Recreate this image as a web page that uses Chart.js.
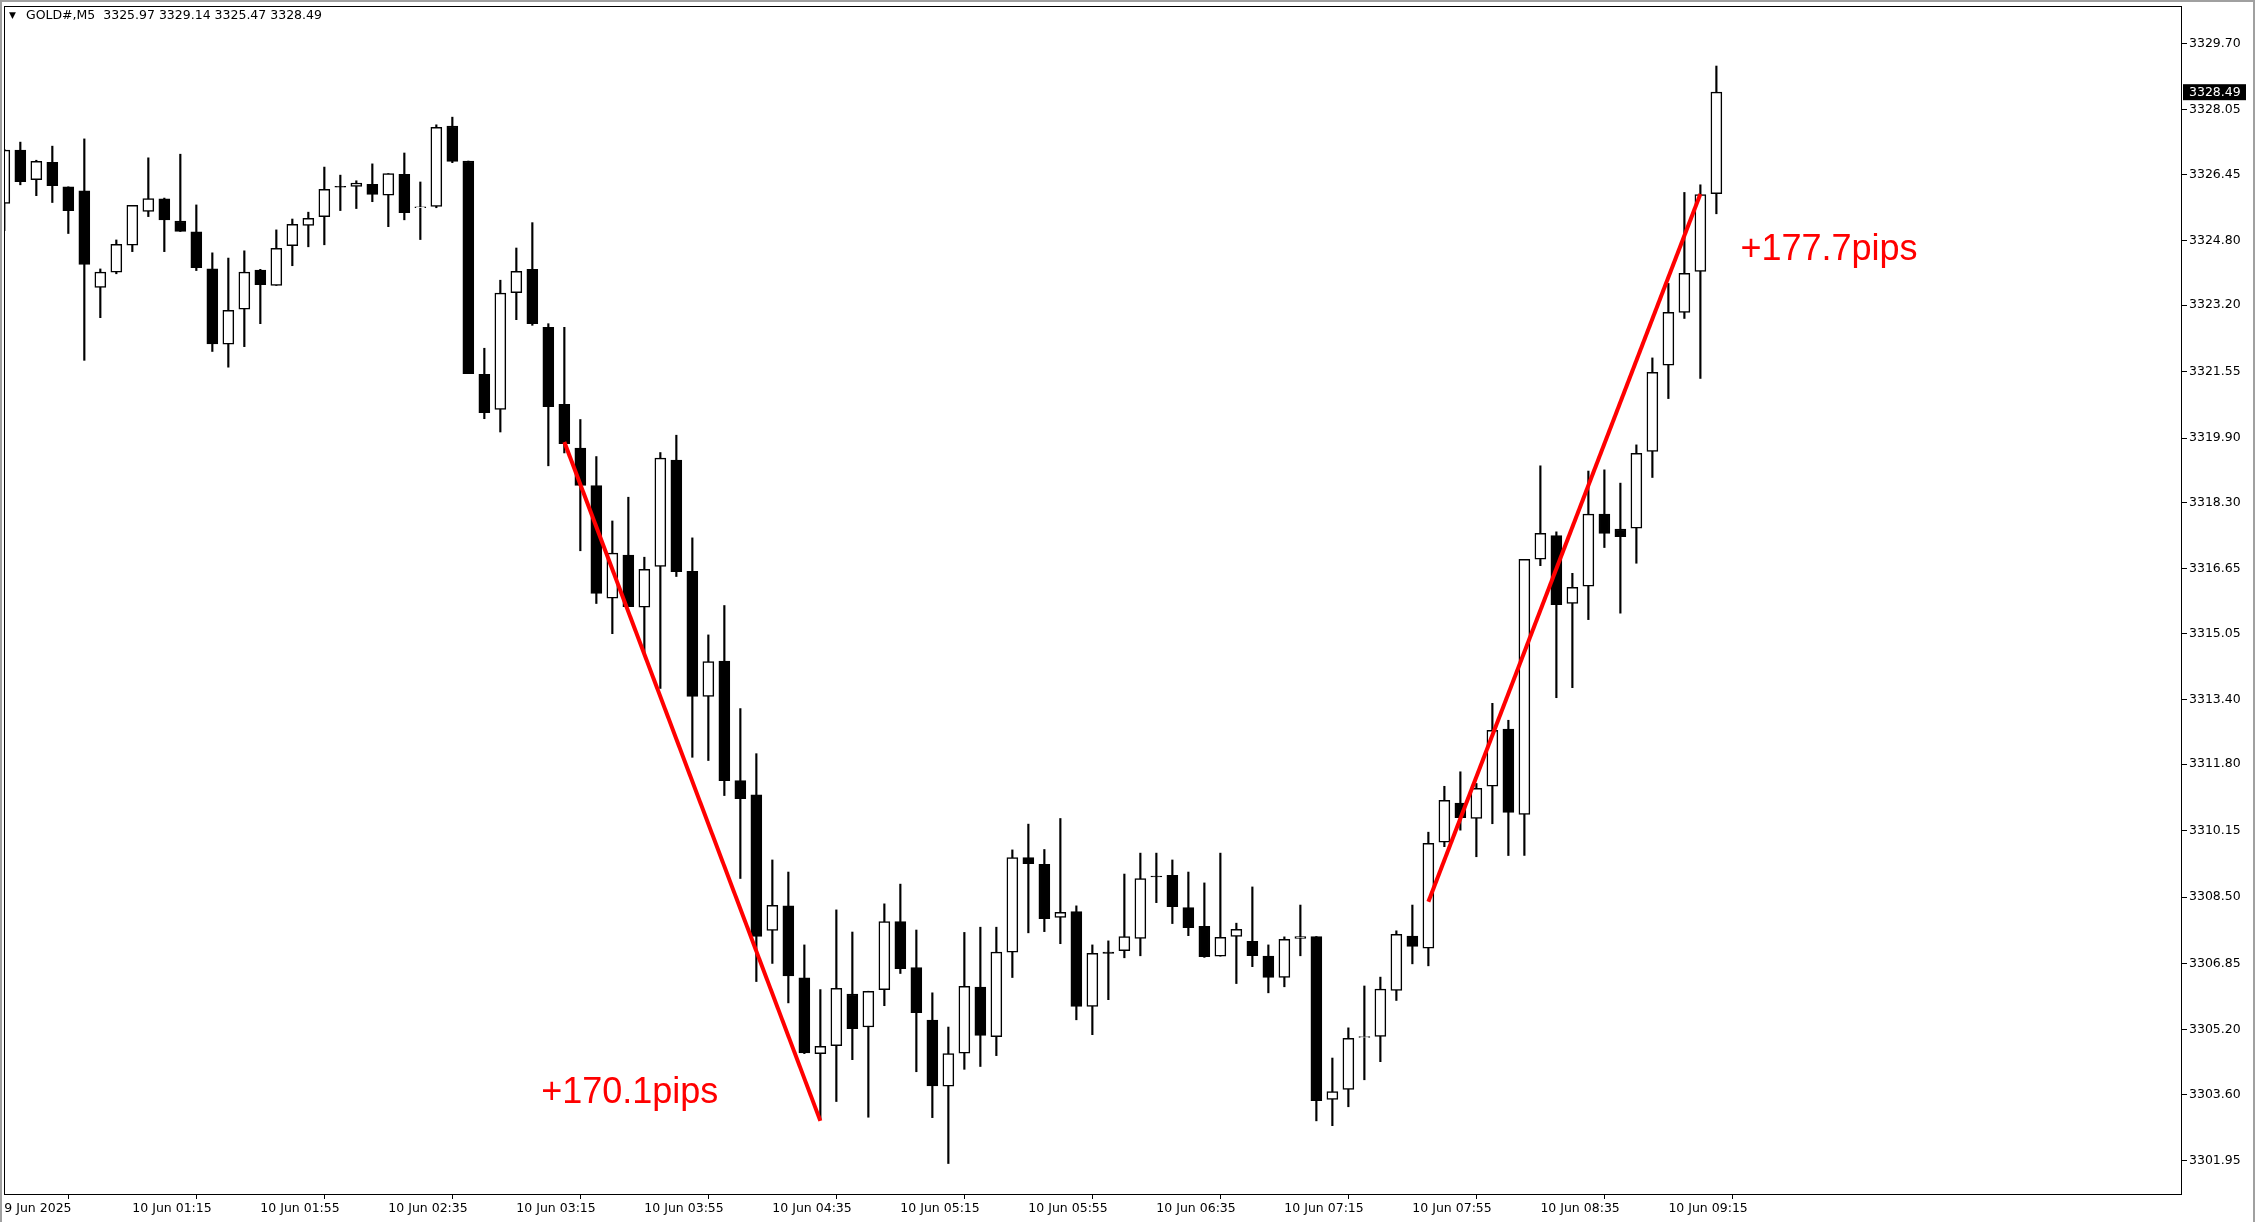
<!DOCTYPE html>
<html><head><meta charset="utf-8">
<script src="https://cdn.jsdelivr.net/npm/chart.js@4/dist/chart.umd.min.js"></script>
<style>html,body{margin:0;padding:0;background:#fff;overflow:hidden}#wrap{position:relative;width:2255px;height:1222px}</style>
</head><body><div id="wrap"><canvas id="c"></canvas></div>
<script>
const symbolName = 'GOLD#,M5';
const xTickLabels = ['9 Jun 2025','10 Jun 01:15','10 Jun 01:55','10 Jun 02:35','10 Jun 03:15','10 Jun 03:55','10 Jun 04:35','10 Jun 05:15','10 Jun 05:55','10 Jun 06:35','10 Jun 07:15','10 Jun 07:55','10 Jun 08:35','10 Jun 09:15'];
const xTickBars = [0,8,16,24,32,40,48,56,64,72,80,88,96,104];
const yTickValues = [3329.70,3328.05,3326.45,3324.80,3323.20,3321.55,3319.90,3318.30,3316.65,3315.05,3313.40,3311.80,3310.15,3308.50,3306.85,3305.20,3303.60,3301.95];

const opens = [3325.73,3327.05,3326.32,3326.75,3326.14,3326.04,3323.64,3324.02,3324.69,3325.53,
3325.84,3325.29,3325.02,3324.10,3322.23,3323.10,3324.07,3323.69,3324.68,3325.18,
3325.40,3326.15,3326.15,3326.20,3325.93,3326.45,3325.62,3325.65,3327.65,3326.78,
3321.48,3320.61,3323.51,3324.09,3322.65,3320.74,3319.65,3318.72,3315.92,3316.99,
3315.70,3316.71,3319.35,3316.59,3313.48,3314.36,3311.39,3311.04,3307.67,3308.28,
3306.49,3304.61,3304.81,3306.09,3305.27,3306.20,3307.89,3306.75,3305.44,3303.80,
3304.62,3306.26,3305.03,3307.13,3309.48,3309.31,3307.99,3308.14,3305.78,3307.13,
3307.17,3307.47,3309.02,3309.04,3308.24,3307.77,3307.03,3307.52,3307.40,3307.03,
3306.50,3307.47,3307.52,3303.47,3303.72,3305.01,3305.04,3306.18,3307.53,3307.23,
3309.86,3310.83,3310.45,3311.25,3312.67,3310.55,3316.89,3317.48,3315.79,3316.22,
3318.01,3317.64,3317.66,3319.57,3321.71,3323.02,3324.04,3325.97];
const highs = [3327.07,3327.25,3326.80,3327.15,3326.14,3327.33,3324.10,3324.82,3325.68,3326.86,
3325.86,3326.95,3325.69,3324.50,3324.37,3324.55,3324.09,3325.07,3325.34,3325.51,
3326.63,3326.43,3326.29,3326.71,3326.47,3326.98,3326.26,3327.68,3327.87,3326.78,
3322.13,3323.82,3324.62,3325.25,3322.74,3322.65,3320.36,3319.44,3317.84,3318.43,
3316.94,3319.54,3319.97,3317.42,3315.01,3315.74,3313.18,3312.06,3309.42,3309.12,
3307.31,3306.20,3308.18,3307.63,3306.16,3308.33,3308.82,3307.68,3306.12,3305.27,
3307.62,3307.75,3307.75,3309.67,3310.31,3309.68,3310.45,3308.28,3307.31,3307.41,
3309.07,3309.59,3309.59,3309.42,3309.12,3308.85,3309.59,3307.85,3308.75,3307.31,
3307.51,3308.30,3307.52,3304.50,3305.25,3306.29,3306.51,3307.66,3308.30,3310.11,
3311.25,3311.61,3311.32,3313.31,3312.89,3316.89,3319.21,3317.57,3316.54,3319.08,
3319.11,3318.78,3319.73,3321.89,3323.74,3326.00,3326.19,3329.14];
const lows = [3325.05,3326.19,3325.92,3325.75,3324.98,3321.83,3322.89,3323.98,3324.53,3325.40,
3324.53,3325.03,3324.06,3322.05,3321.66,3322.17,3322.74,3323.69,3324.18,3324.65,
3324.70,3325.55,3325.60,3325.77,3325.15,3325.32,3324.83,3325.62,3326.74,3321.50,
3320.38,3320.05,3322.84,3322.70,3319.21,3319.53,3317.10,3315.79,3315.04,3315.71,
3314.56,3313.68,3316.46,3311.97,3311.89,3311.02,3308.96,3306.40,3306.85,3305.87,
3304.61,3302.99,3303.42,3304.46,3303.03,3305.80,3306.60,3304.16,3303.02,3301.88,
3304.22,3304.29,3304.56,3306.50,3307.61,3307.64,3307.34,3305.45,3305.08,3305.95,
3306.99,3307.04,3308.36,3307.84,3307.54,3307.00,3307.03,3306.35,3306.77,3306.12,
3306.27,3307.04,3302.94,3302.82,3303.29,3303.96,3304.41,3305.93,3306.84,3306.79,
3309.75,3310.16,3309.50,3310.32,3309.53,3309.53,3316.73,3313.45,3313.70,3315.39,
3317.18,3315.55,3316.79,3318.92,3320.88,3322.87,3321.38,3325.47];
const closes = [3327.05,3326.27,3326.77,3326.17,3325.55,3324.21,3324.02,3324.71,3325.68,3325.85,
3325.32,3325.03,3324.13,3322.24,3323.07,3324.02,3323.71,3324.61,3325.21,3325.36,
3326.08,3326.13,3326.23,3325.95,3326.47,3325.50,3325.64,3327.62,3326.77,3321.50,
3320.53,3323.50,3324.04,3322.74,3320.68,3319.76,3318.72,3316.04,3317.04,3315.71,
3316.64,3319.40,3316.58,3313.48,3314.35,3311.39,3310.94,3307.52,3308.29,3306.54,
3304.63,3304.79,3306.23,3305.23,3306.16,3307.89,3306.72,3305.63,3303.81,3304.61,
3306.28,3305.06,3307.13,3309.48,3309.33,3307.96,3308.12,3305.78,3307.10,3307.10,
3307.52,3308.96,3309.00,3308.26,3307.74,3307.02,3307.50,3307.70,3307.04,3306.50,
3307.45,3307.52,3303.44,3303.67,3304.99,3305.03,3306.21,3307.57,3307.27,3309.83,
3310.90,3310.47,3311.20,3312.64,3310.60,3316.89,3317.53,3315.76,3316.19,3318.01,
3317.53,3317.45,3319.52,3321.53,3323.02,3323.99,3325.95,3328.49];

const trendStartBar = [35, 89];
const trendStartPrice = [3319.80, 3308.38];
const trendEndBar = [51, 106];
const trendEndPrice = [3302.94, 3325.96];
const noteTexts = ['+170.1pips', '+177.7pips'];
const noteBar = [33.55, 108.5];
const notePrice = [3303.63, 3324.57];

const idx = opens.map((_, i) => i);
const wickData = idx.map(i => ({x: i, y: [lows[i], highs[i]]}));
const bodyData = idx.map(i => ({x: i, y: [Math.min(opens[i], closes[i]), Math.max(opens[i], closes[i])]}));
const bodyColors = idx.map(i => closes[i] >= opens[i] ? '#ffffff' : '#000000');
const lineSets = trendStartBar.map((b, k) => ({
  type: 'line', order: 1,
  data: [{x: b, y: trendStartPrice[k]}, {x: trendEndBar[k], y: trendEndPrice[k]}],
  borderColor: '#ff0000', borderWidth: 4, pointRadius: 0, fill: false, tension: 0
}));

Chart.defaults.font.family = 'DejaVu Sans';
Chart.defaults.color = '#000';

const decor = {
  id: 'decor',
  beforeDraw(chart) {
    const c = chart.ctx;
    c.save();
    c.fillStyle = '#ffffff';
    c.fillRect(0, 0, chart.width, chart.height);
    c.restore();
  },
  afterDatasetsDraw(chart) {
    const c = chart.ctx, a = chart.chartArea;
    const xs = chart.scales.x, ys = chart.scales.y;
    c.save();
    c.font = '36px "Liberation Sans", Arial, sans-serif';
    c.fillStyle = '#ff0000';
    c.textAlign = 'left';
    c.textBaseline = 'middle';
    noteTexts.forEach((t, k) => c.fillText(t, xs.getPixelForValue(noteBar[k]), ys.getPixelForValue(notePrice[k])));
    c.restore();
    c.save();
    c.strokeStyle = '#000';
    c.lineWidth = 1;
    c.strokeRect(a.left + 0.5, a.top + 0.5, a.right - a.left - 1, a.bottom - a.top);
    c.restore();
  },
  afterDraw(chart) {
    const c = chart.ctx, a = chart.chartArea, ys = chart.scales.y;
    const last = closes.length - 1;
    c.save();
    c.fillStyle = '#a0a0a0';
    c.fillRect(0, 0, 2, chart.height);
    c.fillRect(0, 0, chart.width, 2);
    c.fillRect(chart.width - 2, 0, 2, chart.height);
    const py = ys.getPixelForValue(closes[last]);
    c.fillStyle = '#000';
    c.fillRect(a.right + 1, py - 8, 63, 16);
    c.fillStyle = '#fff';
    c.font = '12.5px "DejaVu Sans"';
    c.textBaseline = 'middle';
    c.textAlign = 'left';
    c.fillText(closes[last].toFixed(2), a.right + 7, py + 0.5);
    c.fillStyle = '#000';
    c.font = '9px "DejaVu Sans"';
    c.fillText('\u25BC', 9, 16);
    c.font = '12.5px "DejaVu Sans"';
    c.fillText(symbolName + '  ' + [opens[last], highs[last], lows[last], closes[last]].map(v => v.toFixed(2)).join(' '), 26, 16);
    c.restore();
  }
};

new Chart(document.getElementById('c'), {
  type: 'bar',
  data: {
    datasets: [
      {type: 'bar', order: 3, data: wickData, backgroundColor: '#000', borderWidth: 0, barThickness: 1.5, grouped: false},
      {type: 'bar', order: 2, data: bodyData, backgroundColor: bodyColors, borderColor: '#000', borderWidth: 1.5, borderSkipped: false, barThickness: 11, grouped: false},
      ...lineSets
    ]
  },
  options: {
    responsive: true, maintainAspectRatio: false, animation: false,
    layout: {padding: {left: 4, top: 6, right: 0, bottom: 0}},
    plugins: {legend: {display: false}, tooltip: {enabled: false}, title: {display: false}},
    scales: {
      x: {
        type: 'linear', offset: false, min: -0.02, max: 136.1,
        afterBuildTicks: s => { s.ticks = xTickBars.map(v => ({value: v})); },
        afterFit: s => { s.height = 28; s.paddingLeft = 0; s.paddingRight = 0; },
        ticks: {autoSkip: false, maxRotation: 0, minRotation: 0, align: 'start', padding: 2,
          font: {size: 12.5, family: 'DejaVu Sans'}, color: '#000',
          callback: (v, i) => xTickLabels[i]},
        grid: {display: true, drawOnChartArea: false, drawTicks: true, tickLength: 5, color: '#000', lineWidth: 1},
        border: {display: false}
      },
      y: {
        type: 'linear', position: 'right', min: 3301.123, max: 3330.631,
        afterBuildTicks: s => { s.ticks = yTickValues.map(v => ({value: v})); },
        afterFit: s => { s.width = 73; s.paddingTop = 0; s.paddingBottom = 0; },
        ticks: {autoSkip: false, padding: 2, font: {size: 12.5, family: 'DejaVu Sans'}, color: '#000',
          callback: v => Number(v).toFixed(2)},
        grid: {display: true, drawOnChartArea: false, drawTicks: true, tickLength: 5, color: '#000', lineWidth: 1},
        border: {display: false}
      }
    }
  },
  plugins: [decor]
});
</script></body></html>
